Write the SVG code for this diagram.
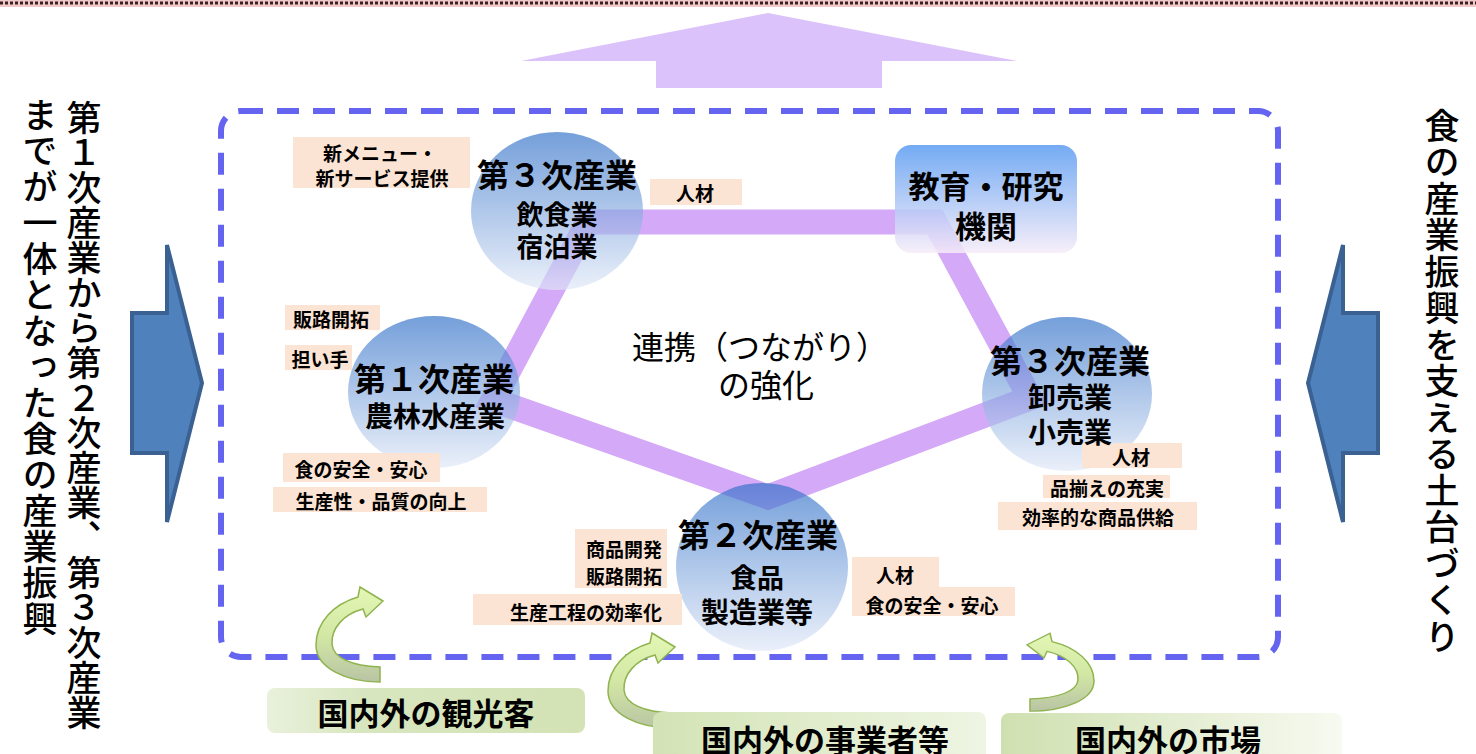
<svg xmlns="http://www.w3.org/2000/svg" width="1476" height="754" viewBox="0 0 1476 754">
<style>
text{font-family:"Noto Sans CJK JP","Noto Sans CJK SC",sans-serif;fill:#000}
.t{font-weight:bold;text-anchor:middle;dominant-baseline:central}
.lb{font-size:19px;font-weight:bold;text-anchor:middle;dominant-baseline:central}
.lbr{font-size:19px;font-weight:bold;text-anchor:end;dominant-baseline:central}
.box{fill:#fce4d4}
.vt{font-size:35px;font-weight:500;writing-mode:vertical-rl}
.big{fill:#4f81bd;stroke:#3a6191;stroke-width:4;stroke-linejoin:miter}
.gr{font-size:31px;font-weight:bold;text-anchor:middle;dominant-baseline:central}
.ca{fill:url(#cag);stroke:#8fb34f;stroke-width:1.5}
</style>
<defs>
<linearGradient id="cg" x1="0" y1="0" x2="0" y2="1">
<stop offset="0" stop-color="#2a6cc6"/>
<stop offset="1" stop-color="#e0e8f7"/>
</linearGradient>
<linearGradient id="rg" x1="0" y1="0" x2="0" y2="1">
<stop offset="0" stop-color="#5b9cf2"/>
<stop offset="1" stop-color="#f6ecf8"/>
</linearGradient>
<linearGradient id="cag" x1="0" y1="0" x2="0" y2="1">
<stop offset="0" stop-color="#e4f7b6"/>
<stop offset="0.5" stop-color="#d3e8a4"/>
<stop offset="1" stop-color="#b9c4a4"/>
</linearGradient>
<linearGradient id="g1" x1="0" y1="0" x2="1" y2="0">
<stop offset="0" stop-color="#e9f1dc"/>
<stop offset="0.3" stop-color="#d8e6bf"/>
<stop offset="1" stop-color="#d3e3b5"/>
</linearGradient>
<linearGradient id="g2" x1="0" y1="0" x2="1" y2="0">
<stop offset="0" stop-color="#d3e3b5"/>
<stop offset="1" stop-color="#eef5e3"/>
</linearGradient>
<linearGradient id="g3" x1="0" y1="0" x2="1" y2="0">
<stop offset="0" stop-color="#cfe0b0"/>
<stop offset="1" stop-color="#f7faf1"/>
</linearGradient>
<path id="carrow" d="M 380 682 C 346 682 316 668 316 645 C 316 622 334 604 358 597 L 360 587 L 383 601 L 366 617 L 363 609 C 344 614 331 628 332 644 C 333 658 352 666 380 667 Z"/>
</defs>

<rect x="0" y="0" width="1476" height="7" fill="#f1c9c9"/>
<line x1="0" y1="3" x2="1476" y2="3" stroke="#3a2020" stroke-width="3" stroke-dasharray="3 2"/>

<polygon id="uparrow" points="768,13 1017,61 882,61 882,88 656,88 656,61 521,61" fill="#dcc2fa"/>

<polygon id="leftarrow" class="big" points="132,313 167,313 167,245 202,383 167,522 167,453 132,453"/>
<polygon id="rightarrow" class="big" points="1378,313 1343,313 1343,245 1308,383 1343,522 1343,453 1378,453"/>

<text class="vt" x="84" y="100">第１次産業から第２次産業、第３次産業</text>
<text class="vt" x="40" y="97" letter-spacing="1">までが一体となった食の産業振興</text>
<text class="vt" x="1442" y="108" letter-spacing="1.5">食の産業振興を支える土台づくり</text>

<rect x="221" y="111" width="1057" height="546" rx="20" fill="none" stroke="#6464f0" stroke-width="6" stroke-dasharray="22 14"/>

<g id="connectors">
<path d="M 588 222 L 935 222 L 1030 398 L 768 497 L 493 400 Z" fill="none" stroke="#d4a9f7" stroke-width="25" stroke-linejoin="miter"/>
</g>

<g id="node-inshoku">
<ellipse cx="557" cy="211" rx="86" ry="79" fill="url(#cg)" fill-opacity="0.65"/>
<text class="t" x="557" y="173" font-size="32">第３次産業</text>
<text class="t" x="557" y="213" font-size="27">飲食業</text>
<text class="t" x="557" y="245" font-size="27">宿泊業</text>
</g>

<g id="node-kyoiku">
<rect x="895" y="145" width="182" height="108" rx="16" fill="url(#rg)" fill-opacity="0.85"/>
<text class="t" x="986" y="184" font-size="31">教育・研究</text>
<text class="t" x="986" y="224" font-size="31">機関</text>
</g>

<g id="node-norin">
<ellipse cx="434" cy="392" rx="86" ry="76" fill="url(#cg)" fill-opacity="0.65"/>
</g>

<g id="node-oroshi">
<ellipse cx="1067" cy="394" rx="85" ry="77" fill="url(#cg)" fill-opacity="0.65"/>
</g>

<g id="node-shokuhin">
<ellipse cx="762" cy="567" rx="86" ry="84" fill="url(#cg)" fill-opacity="0.65"/>
</g>

<g id="labels">
<rect class="box" x="293" y="137" width="177" height="51"/>
<text class="lb" x="380" y="152">新メニュー・</text>
<text class="lb" x="382" y="177">新サービス提供</text>
<rect class="box" x="650" y="179" width="92" height="26"/>
<text class="lb" x="695" y="192">人材</text>
<rect class="box" x="285" y="305" width="95" height="25"/>
<text class="lb" x="331" y="318">販路開拓</text>
<rect class="box" x="285" y="345" width="67" height="25"/>
<text class="lb" x="320" y="358">担い手</text>
<rect class="box" x="283" y="453" width="157" height="29"/>
<text class="lb" x="361" y="468">食の安全・安心</text>
<rect class="box" x="273" y="487" width="214" height="25"/>
<text class="lb" x="381" y="500">生産性・品質の向上</text>
<rect class="box" x="575" y="529" width="92" height="59"/>
<text class="lbr" x="662" y="548">商品開発</text>
<text class="lbr" x="662" y="575">販路開拓</text>
<rect class="box" x="473" y="594" width="209" height="31"/>
<text class="lbr" x="662" y="611">生産工程の効率化</text>
<rect class="box" x="852" y="557" width="87" height="31"/>
<rect class="box" x="852" y="587" width="163" height="29"/>
<text class="lb" x="895" y="574">人材</text>
<text class="lb" x="932" y="604">食の安全・安心</text>
<rect class="box" x="1082" y="443" width="100" height="25"/>
<text class="lb" x="1131" y="456">人材</text>
<rect class="box" x="1043" y="475" width="127" height="23"/>
<text class="lb" x="1107" y="487">品揃えの充実</text>
<rect class="box" x="998" y="502" width="199" height="28"/>
<text class="lb" x="1098" y="516">効率的な商品供給</text>
</g>

<g id="node-norin-text">
<text class="t" x="434" y="377" font-size="32">第１次産業</text>
<text class="t" x="435" y="415" font-size="28">農林水産業</text>
</g>
<g id="node-oroshi-text">
<text class="t" x="1070" y="359" font-size="32">第３次産業</text>
<text class="t" x="1070" y="396" font-size="28">卸売業</text>
<text class="t" x="1070" y="431" font-size="28">小売業</text>
</g>
<g id="node-shokuhin-text">
<text class="t" x="758" y="533" font-size="32">第２次産業</text>
<text class="t" x="757" y="576" font-size="27">食品</text>
<text class="t" x="757" y="611" font-size="28">製造業等</text>
</g>

<g id="center-label">
<text x="760" y="345" font-size="32" text-anchor="middle" dominant-baseline="central">連携（つながり）</text>
<text x="766" y="383" font-size="32" text-anchor="middle" dominant-baseline="central">の強化</text>
</g>

<g id="curved-arrows">
<use href="#carrow" class="ca"/>
<use href="#carrow" class="ca" transform="translate(292,46)"/>
<use href="#carrow" class="ca" transform="translate(1410,152) scale(-1,0.82)"/>
</g>

<g id="node-kankokyaku">
<rect x="267" y="688" width="318" height="45" rx="8" fill="url(#g1)"/>
<text class="gr" x="426" y="711">国内外の観光客</text>
</g>
<g id="node-jigyosha">
<rect x="653" y="712" width="333" height="50" rx="8" fill="url(#g2)"/>
<text class="gr" x="825" y="738">国内外の事業者等</text>
</g>
<g id="node-shijo">
<rect x="1001" y="713" width="341" height="50" rx="8" fill="url(#g3)"/>
<text class="gr" x="1168" y="738">国内外の市場</text>
</g>
</svg>
